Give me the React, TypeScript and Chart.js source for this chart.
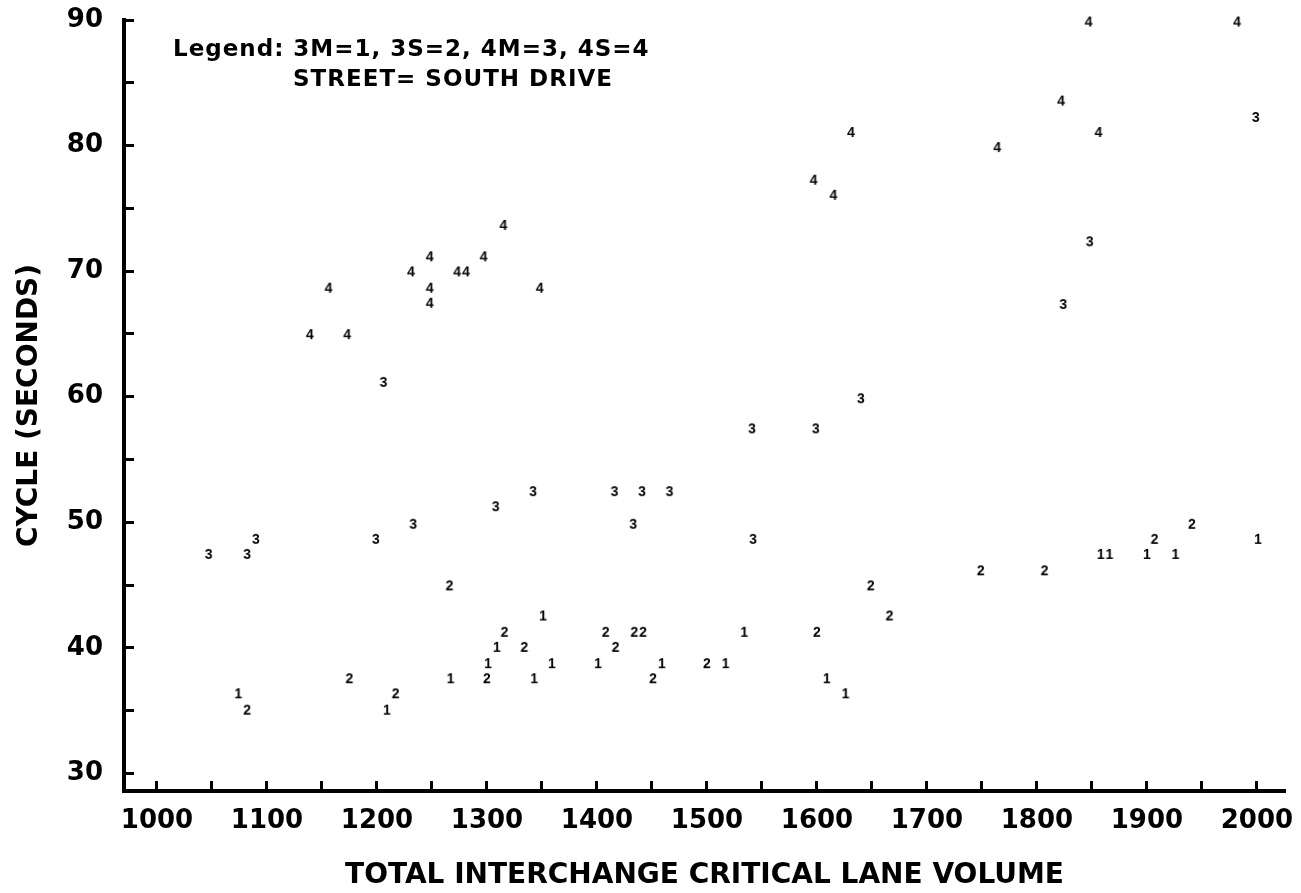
import React, { useEffect, useRef } from 'react';
import { Chart, registerables } from 'chart.js';

Chart.register(...registerables);

// ---- axis ticks / text ----
const X_TICKS = [1000, 1050, 1100, 1150, 1200, 1250, 1300, 1350, 1400, 1450, 1500, 1550, 1600, 1650, 1700, 1750, 1800, 1850, 1900, 1950, 2000];
const Y_TICKS = [30, 35, 40, 45, 50, 55, 60, 65, 70, 75, 80, 85, 90];
const X_TITLE = 'TOTAL INTERCHANGE CRITICAL LANE VOLUME';
const Y_TITLE = 'CYCLE (SECONDS)';
const LEGEND_LINE_1 = 'Legend: 3M=1, 3S=2, 4M=3, 4S=4';
const LEGEND_LINE_2 = 'STREET= SOUTH DRIVE';

// ---- series (symbol drawn at each point) ----
const SERIES_NAMES = ['3M', '3S', '4M', '4S'];
const SERIES_SYMBOLS = ['1', '2', '3', '4'];

// 3M = 1
const m3X = [2001, 1858, 1866, 1900, 1926, 1351, 1534, 1309, 1301, 1359, 1401, 1459, 1517, 1267, 1343, 1609, 1074, 1626, 1209];
const m3Y = [48.6, 47.4, 47.4, 47.4, 47.4, 42.5, 41.2, 40.0, 38.7, 38.7, 38.7, 38.7, 38.7, 37.5, 37.5, 37.5, 36.3, 36.3, 35.0];

// 3S = 2
const s3X = [1941, 1907, 1749, 1807, 1266, 1649, 1666, 1316, 1408, 1434, 1442, 1600, 1334, 1417, 1500, 1175, 1300, 1451, 1217, 1082];
const s3Y = [49.8, 48.6, 46.1, 46.1, 44.9, 44.9, 42.5, 41.2, 41.2, 41.2, 41.2, 41.2, 40.0, 40.0, 38.7, 37.5, 37.5, 37.5, 36.3, 35.0];

// 4M = 3
const m4X = [1999, 1848, 1824, 1206, 1640, 1541, 1599, 1342, 1416, 1441, 1466, 1308, 1233, 1433, 1047, 1082, 1090, 1199, 1542];
const m4Y = [82.2, 72.3, 67.3, 61.1, 59.8, 57.4, 57.4, 52.4, 52.4, 52.4, 52.4, 51.2, 49.8, 49.8, 47.4, 47.4, 48.6, 48.6, 48.6];

// 4S = 4
const s4X = [1847, 1982, 1822, 1631, 1856, 1764, 1597, 1615, 1315, 1248, 1297, 1231, 1273, 1281, 1156, 1248, 1348, 1248, 1139, 1173];
const s4Y = [89.8, 89.8, 83.5, 81.0, 81.0, 79.8, 77.2, 76.0, 73.6, 71.1, 71.1, 69.9, 69.9, 69.9, 68.6, 68.6, 68.6, 67.4, 64.9, 64.9];

const SERIES_X = [m3X, s3X, m4X, s4X];
const SERIES_Y = [m3Y, s3Y, m4Y, s4Y];

const FONT = '"DejaVu Sans", "Liberation Sans", sans-serif';

function makeSymbol(d: string): HTMLCanvasElement {
  const c = document.createElement('canvas');
  c.width = 16;
  c.height = 16;
  const g = c.getContext('2d') as CanvasRenderingContext2D;
  g.font = 'bold 14px "Liberation Sans", sans-serif';
  g.fillStyle = '#000';
  g.textAlign = 'center';
  g.textBaseline = 'middle';
  g.fillText(d, 8, 8.5);
  return c;
}

const annotationPlugin = {
  id: 'legendText',
  afterDraw(chart: any) {
    const { ctx, chartArea } = chart;
    ctx.save();
    ctx.fillStyle = '#000';
    ctx.font = `bold 23px ${FONT}`;
    ctx.textAlign = 'left';
    ctx.textBaseline = 'alphabetic';
    (ctx as any).letterSpacing = '1px';
    ctx.fillText(LEGEND_LINE_1, chartArea.left + 49, chartArea.top + 36);
    ctx.fillText(LEGEND_LINE_2, chartArea.left + 169, chartArea.top + 66);
    ctx.restore();
  },
};

export default function App() {
  const ref = useRef<HTMLCanvasElement>(null);

  useEffect(() => {
    document.body.style.margin = '0';
    const canvas = ref.current;
    if (!canvas) return;

    const datasets = SERIES_NAMES.map((name, i) => ({
      label: name,
      data: SERIES_X[i].map((x, j) => ({ x, y: SERIES_Y[i][j] })),
      pointStyle: makeSymbol(SERIES_SYMBOLS[i]),
      pointRadius: 6,
      showLine: false,
      clip: false as const,
      borderColor: '#000',
      backgroundColor: '#000',
    }));

    const tickFont = { family: FONT, size: 26, weight: 'bold' as const };
    const titleFont = { family: FONT, size: 28, weight: 'bold' as const };

    const chart = new Chart(canvas, {
      type: 'scatter',
      data: { datasets },
      plugins: [annotationPlugin],
      options: {
        responsive: false,
        animation: false,
        layout: { padding: { left: 0, right: 16, top: 20, bottom: 0 } },
        plugins: {
          legend: { display: false },
          tooltip: { enabled: false },
        },
        scales: {
          x: {
            type: 'linear',
            position: 'bottom',
            min: 970,
            max: 2025.5,
            afterBuildTicks: (s: any) => {
              s.ticks = X_TICKS.map((v) => ({ value: v }));
            },
            afterFit: (s: any) => {
              s.height = 102;
              s.paddingLeft = 0;
              s.paddingRight = 0;
            },
            border: { display: true, color: '#000', width: 4 },
            grid: {
              display: true,
              drawOnChartArea: false,
              drawTicks: true,
              tickLength: -10,
              tickWidth: 3,
              tickColor: '#000',
            },
            ticks: {
              autoSkip: false,
              maxRotation: 0,
              minRotation: 0,
              padding: 25,
              color: '#000',
              font: tickFont,
              callback: (v: any) => (Number(v) % 100 === 0 ? String(v) : ''),
            },
            title: {
              display: true,
              text: X_TITLE,
              color: '#000',
              font: titleFont,
              padding: { top: 0, bottom: 0 },
            },
          },
          y: {
            type: 'linear',
            min: 28.6,
            max: 90,
            afterBuildTicks: (s: any) => {
              s.ticks = Y_TICKS.map((v) => ({ value: v }));
            },
            afterFit: (s: any) => {
              s.width = 124;
              s.paddingTop = 0;
              s.paddingBottom = 0;
            },
            border: { display: true, color: '#000', width: 4 },
            grid: {
              display: true,
              drawOnChartArea: false,
              drawTicks: true,
              tickLength: -10,
              tickWidth: 3,
              tickColor: '#000',
            },
            ticks: {
              autoSkip: false,
              padding: 31,
              color: '#000',
              font: tickFont,
              callback: (v: any) => (Number(v) % 10 === 0 ? String(v) : ''),
            },
            title: {
              display: true,
              text: Y_TITLE,
              color: '#000',
              font: titleFont,
              padding: { top: 13, bottom: 0 },
            },
          },
        },
      },
    });

    return () => {
      chart.destroy();
    };
  }, []);

  return (
    <div style={{ width: 1301, height: 893, background: '#fff' }}>
      <canvas ref={ref} width={1301} height={893} style={{ display: 'block' }} />
    </div>
  );
}
